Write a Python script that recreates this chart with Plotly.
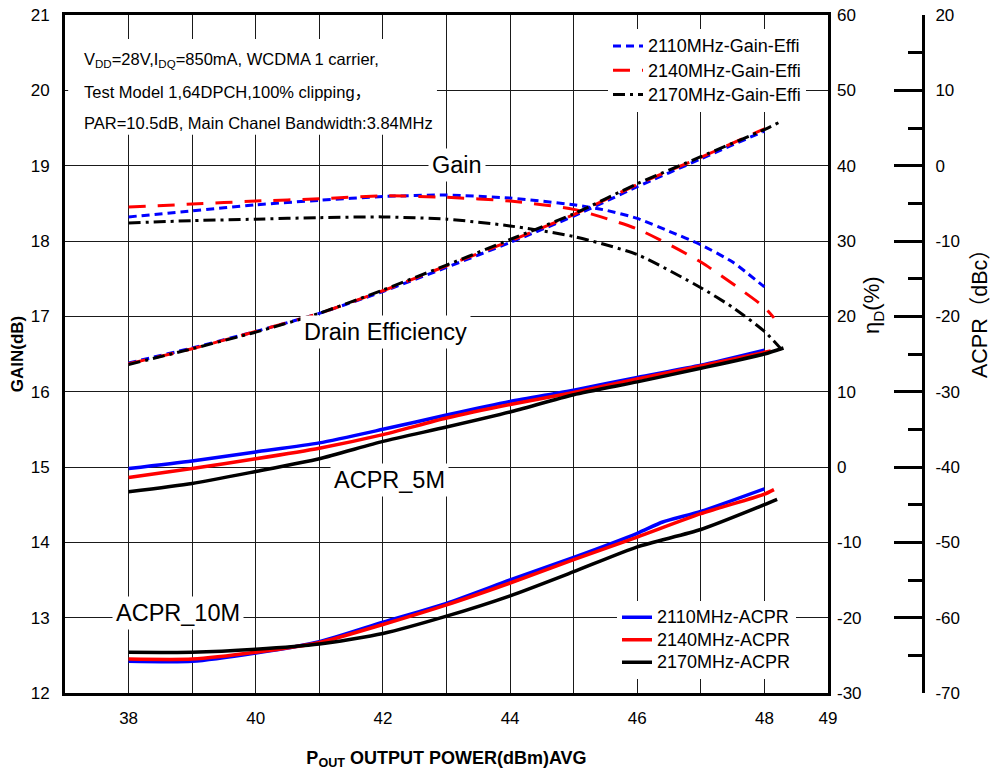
import plotly.graph_objects as go

FONT = "Arial, 'Liberation Sans', 'Noto Sans CJK SC', sans-serif"

# ---------------- data ----------------
# Gain (dB) vs Pout (dBm)
x_gain_2110 = [38, 39, 40, 41, 42, 43, 44, 45, 45.5, 46, 46.5, 47, 47.5, 48]
gain_2110 = [18.32, 18.40, 18.48, 18.54, 18.59, 18.61, 18.57, 18.48, 18.41, 18.30, 18.13, 17.95, 17.72, 17.39]
x_gain_2140 = [38, 39, 40, 41, 42, 43, 44, 45, 46, 47, 48, 48.15]
gain_2140 = [18.45, 18.49, 18.53, 18.56, 18.60, 18.58, 18.53, 18.42, 18.16, 17.72, 17.12, 16.98]
x_gain_2170 = [38, 39, 40, 41, 42, 43, 44, 45, 46, 47, 47.5, 48, 48.3]
gain_2170 = [18.24, 18.27, 18.29, 18.31, 18.32, 18.29, 18.20, 18.06, 17.82, 17.38, 17.12, 16.80, 16.53]

# Drain efficiency (%)
x_eff_2110 = [38, 39, 40, 41, 42, 43, 44, 45, 46, 47, 48]
eff_2110 = [13.8, 15.8, 18.0, 20.4, 23.3, 26.5, 29.8, 33.3, 37.2, 40.9, 44.6]
x_eff_2140 = [38, 39, 40, 41, 42, 43, 44, 45, 46, 47, 48]
eff_2140 = [13.7, 15.7, 18.0, 20.4, 23.4, 26.7, 30.0, 33.5, 37.5, 41.1, 44.9]
x_eff_2170 = [38, 39, 40, 41, 42, 43, 44, 45, 46, 47, 48, 48.22]
eff_2170 = [13.6, 15.7, 17.9, 20.4, 23.5, 26.8, 30.2, 33.6, 37.6, 41.2, 44.8, 45.7]

# ACPR 5 MHz offset (dBc)
x_a5_2110 = [38, 39, 40, 41, 42, 43, 44, 45, 46, 47, 48]
acpr5_2110 = [-40.2, -39.2, -38.0, -36.8, -35.0, -33.1, -31.3, -29.8, -28.1, -26.5, -24.5]
x_a5_2140 = [38, 39, 40, 41, 42, 43, 44, 45, 46, 47, 48.1]
acpr5_2140 = [-41.4, -40.2, -38.9, -37.5, -35.7, -33.5, -31.7, -30.1, -28.3, -26.6, -24.6]
x_a5_2170 = [38, 39, 40, 41, 42, 43, 44, 45, 46, 47, 48, 48.3]
acpr5_2170 = [-43.3, -42.2, -40.6, -38.9, -36.6, -34.7, -32.7, -30.4, -28.7, -26.9, -25.0, -24.2]

# ACPR 10 MHz offset (dBc)
x_a10_2110 = [38, 39, 40, 41, 42, 43, 44, 45, 46, 46.4, 47, 48]
acpr10_2110 = [-65.8, -65.8, -64.7, -63.2, -60.6, -58.1, -55.0, -52.0, -48.8, -47.3, -45.9, -42.9]
x_a10_2140 = [38, 39, 40, 41, 42, 43, 44, 45, 46, 47, 48, 48.15]
acpr10_2140 = [-65.5, -65.5, -64.6, -63.3, -60.9, -58.3, -55.4, -52.3, -49.3, -46.2, -43.6, -43.0]
x_a10_2170 = [38, 39, 40, 41, 42, 43, 44, 45, 46, 47, 48, 48.2]
acpr10_2170 = [-64.6, -64.6, -64.2, -63.5, -62.1, -59.8, -57.1, -53.9, -50.6, -48.3, -45.0, -44.3]

# tick labels
x_tickvals = [38, 40, 42, 44, 46, 48, 49]
x_ticktext = ["38", "40", "42", "44", "46", "48", "49"]
eff_tickvals = [-30, -20, -10, 0, 10, 20, 30, 40, 50, 60]
eff_ticktext = ["-30", "-20", "-10", "0", "10", "20", "30", "40", "50", "60"]
acpr_tickvals = [-70, -60, -50, -40, -30, -20, -10, 0, 10, 20]
acpr_ticktext = ["-70", "-60", "-50", "-40", "-30", "-20", "-10", "0", "10", "20"]

names_ge = ["2110MHz-Gain-Effi", "2140MHz-Gain-Effi", "2170MHz-Gain-Effi"]
names_acpr = ["2110MHz-ACPR", "2140MHz-ACPR", "2170MHz-ACPR"]
colors = ["#0000FF", "#FF0000", "#000000"]
dashes = ["8px,5px", "17px,12px", "12px,5px,3px,5px"]

# ---------------- figure ----------------
fig = go.Figure()

gain_sets = [(x_gain_2110, gain_2110), (x_gain_2140, gain_2140), (x_gain_2170, gain_2170)]
eff_sets = [(x_eff_2110, eff_2110), (x_eff_2140, eff_2140), (x_eff_2170, eff_2170)]
a5_sets = [(x_a5_2110, acpr5_2110), (x_a5_2140, acpr5_2140), (x_a5_2170, acpr5_2170)]
a10_sets = [(x_a10_2110, acpr10_2110), (x_a10_2140, acpr10_2140), (x_a10_2170, acpr10_2170)]

LEG_SPAN = '<span style="font-size:18px">%s</span>'

for i in range(3):
    fig.add_trace(go.Scatter(
        x=gain_sets[i][0], y=gain_sets[i][1], name=LEG_SPAN % names_ge[i], mode="lines",
        line=dict(color=colors[i], dash=dashes[i], width=3, shape="spline", smoothing=0.6),
        yaxis="y", legend="legend", legendgroup=names_ge[i], showlegend=True))
for i in range(3):
    fig.add_trace(go.Scatter(
        x=eff_sets[i][0], y=eff_sets[i][1], name=names_ge[i], mode="lines",
        line=dict(color=colors[i], dash=dashes[i], width=3, shape="spline", smoothing=0.6),
        yaxis="y2", legend="legend", legendgroup=names_ge[i], showlegend=False))
for i in range(3):
    fig.add_trace(go.Scatter(
        x=a5_sets[i][0], y=a5_sets[i][1], name=LEG_SPAN % names_acpr[i], mode="lines",
        line=dict(color=colors[i], width=3.5, shape="spline", smoothing=0.6),
        yaxis="y3", legend="legend2", legendgroup=names_acpr[i], showlegend=True))
for i in range(3):
    fig.add_trace(go.Scatter(
        x=a10_sets[i][0], y=a10_sets[i][1], name=names_acpr[i], mode="lines",
        line=dict(color=colors[i], width=3.5, shape="spline", smoothing=0.6),
        yaxis="y3", legend="legend2", legendgroup=names_acpr[i], showlegend=False))

TICKFONT = dict(family=FONT, size=17, color="black")
GRID = "#1a1a1a"

fig.update_layout(
    width=992, height=774,
    margin=dict(l=65, r=10, t=15, b=81, autoexpand=False),
    paper_bgcolor="white", plot_bgcolor="white",
    font=dict(family=FONT, color="black"),
    xaxis=dict(
        domain=[0, 763 / 917], range=[37, 49],
        tickvals=x_tickvals, ticktext=x_ticktext, tickfont=TICKFONT,
        showgrid=True, gridcolor=GRID, gridwidth=1,
        minor=dict(tick0=37, dtick=1, showgrid=True, gridcolor=GRID, gridwidth=1, ticks=""),
        showline=True, linewidth=3, linecolor="black", mirror=True,
        ticks="", zeroline=False, ticklabelstandoff=8, ticklabeloverflow="allow",
        title=dict(text="<b>P<sub>OUT</sub> OUTPUT POWER(dBm)AVG</b>",
                   font=dict(family=FONT, size=18), standoff=24),
    ),
    yaxis=dict(
        range=[12, 21], dtick=1, tickfont=TICKFONT,
        showgrid=True, gridcolor=GRID, gridwidth=1,
        showline=True, linewidth=3, linecolor="black", mirror=True,
        ticks="", zeroline=False, ticklabelstandoff=9, ticklabeloverflow="allow",
        title=dict(text="<b>GAIN(dB)</b>", font=dict(family=FONT, size=17), standoff=3),
    ),
    yaxis2=dict(
        overlaying="y", side="right", anchor="x",
        range=[-30, 60], tickvals=eff_tickvals, ticktext=eff_ticktext, tickfont=TICKFONT,
        showgrid=False, zeroline=False, ticks="", showline=False,
        ticklabelstandoff=8, ticklabeloverflow="allow",
    ),
    yaxis3=dict(
        overlaying="y", side="right", anchor="free", position=(923 - 65) / 917,
        range=[-70, 20], tickvals=acpr_tickvals, ticktext=acpr_ticktext, tickfont=TICKFONT,
        showgrid=False, zeroline=False,
        showline=True, linewidth=3, linecolor="black",
        ticks="inside", ticklen=28, tickwidth=3, tickcolor="black",
        minor=dict(dtick=5, ticks="inside", ticklen=14, tickwidth=3, tickcolor="black", showgrid=False),
        ticklabelstandoff=7, ticklabeloverflow="allow",
    ),
    legend=dict(
        x=(608 - 65) / 917, y=(693 - 29) / 678, xanchor="left", yanchor="top",
        bgcolor="white", borderwidth=0, font=dict(family=FONT, size=16.3),
        tracegroupgap=0, itemwidth=30,
    ),
    legend2=dict(
        x=(617 - 65) / 917, y=(693 - 601) / 678, xanchor="left", yanchor="top",
        bgcolor="white", borderwidth=0, font=dict(family=FONT, size=15),
        tracegroupgap=0, itemwidth=30,
    ),
)

# white box behind the test-condition text
fig.add_shape(type="rect", xref="x", yref="y", x0=37.05, x1=42.85, y0=19.41, y1=20.68,
              fillcolor="white", line=dict(width=0), layer="above")

spec_lines = [
    "V<sub>DD</sub>=28V,I<sub>DQ</sub>=850mA, WCDMA 1 carrier,",
    "Test Model 1,64DPCH,100% clipping，",
    "PAR=10.5dB, Main Chanel Bandwidth:3.84MHz",
]
spec_y = [20.40, 19.98, 19.56]
for t, yy in zip(spec_lines, spec_y):
    fig.add_annotation(x=37.27, y=yy, xref="x", yref="y", text=t, showarrow=False,
                       xanchor="left", yanchor="middle", font=dict(family=FONT, size=16.5))

labels = [("Gain", 43.17, 19.01), ("Drain Efficiency", 42.04, 16.79),
          ("ACPR_5M", 42.10, 14.83), ("ACPR_10M", 38.78, 13.06)]
for t, xx, yy in labels:
    fig.add_annotation(x=xx, y=yy, xref="x", yref="y", text=t, showarrow=False,
                       font=dict(family=FONT, size=23.5), bgcolor="white", borderpad=3)

fig.add_annotation(x=(873 - 65) / 917, y=(693 - 305) / 678, xref="paper", yref="paper",
                   xanchor="center", yanchor="middle",
                   text="η<sub>D</sub>(%)", textangle=-90, showarrow=False,
                   font=dict(family=FONT, size=22))
fig.add_annotation(x=(980 - 65) / 917, y=(693 - 308) / 678, xref="paper", yref="paper",
                   xanchor="center", yanchor="middle",
                   text="ACPR（dBc）", textangle=-90, showarrow=False,
                   font=dict(family=FONT, size=21.5))

# remove the default page margin so the figure sits at the window's top-left corner
fig.write_html("out.html", config={"displayModeBar": False},
               post_script="document.body.style.margin='0';")
